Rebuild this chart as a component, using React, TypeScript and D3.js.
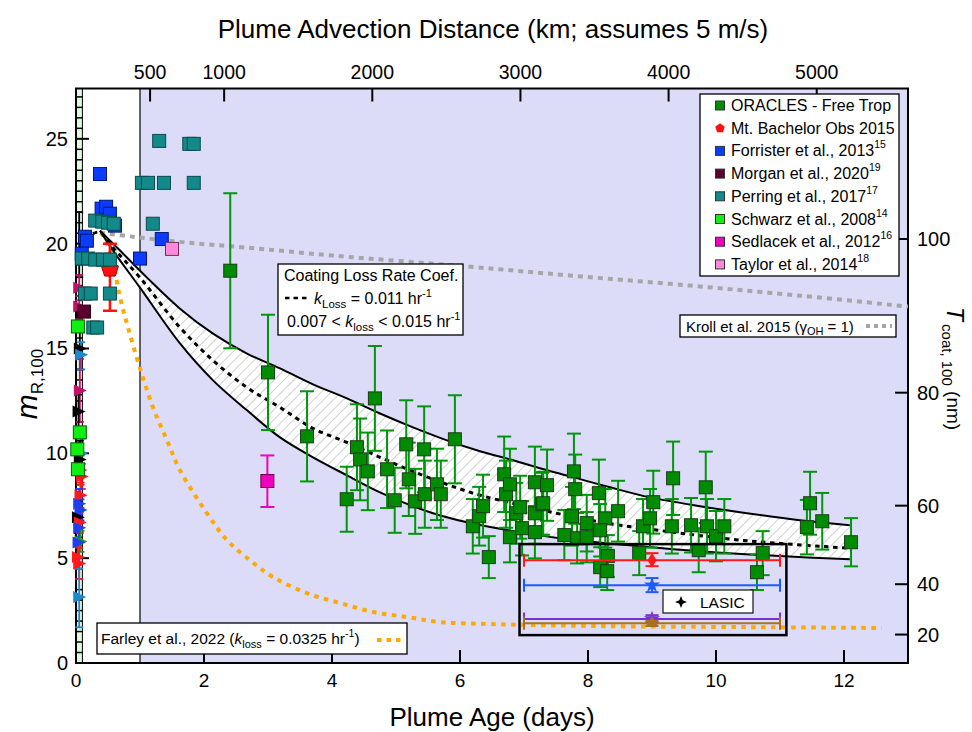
import React from "react";
import * as d3 from "d3";

const FONT = "'Liberation Sans', Arial, Helvetica, sans-serif";

// ---------- axes ----------
const ageTicks = [0, 2, 4, 6, 8, 10, 12];
const mrTicks = [0, 5, 10, 15, 20, 25];
const distTicksKm = [500, 1000, 2000, 3000, 4000, 5000];
const coatTicksNm = [20, 40, 60, 80, 100];

// ---------- ORACLES free troposphere ----------
const oracAge = [2.41, 3.0, 3.61, 4.67, 4.23, 4.39, 4.44, 4.56, 4.86, 4.98, 5.16, 5.2, 5.3, 5.44, 5.45, 5.64, 5.7, 5.92, 6.2, 6.3, 6.36, 6.45, 6.69, 6.72, 6.78, 6.88, 6.78, 6.97, 7.17, 7.17, 7.17, 7.28, 7.36, 7.3, 7.78, 7.8, 7.75, 7.63, 7.83, 7.98, 7.98, 8.17, 8.27, 8.19, 8.47, 8.31, 8.19, 8.3, 8.8, 8.86, 8.97, 9.02, 9.33, 9.31, 9.61, 9.73, 9.84, 9.86, 10.0, 10.13, 10.73, 10.64, 11.47, 11.42, 11.66, 12.11, 6.94];
const oracM = [18.71, 13.86, 10.81, 12.62, 7.81, 10.29, 9.71, 9.14, 9.24, 7.76, 10.43, 8.76, 7.71, 10.19, 8.05, 8.52, 8.05, 10.67, 6.52, 7.0, 7.48, 5.05, 9.0, 8.05, 8.52, 7.14, 6.0, 6.43, 8.62, 7.14, 6.24, 7.57, 8.48, 7.62, 9.14, 8.29, 7.0, 6.1, 5.95, 6.67, 6.0, 8.1, 6.9, 6.33, 7.24, 5.1, 4.57, 4.38, 5.24, 6.52, 6.9, 7.67, 8.81, 6.52, 6.57, 5.38, 8.38, 6.52, 6.05, 6.52, 5.24, 4.33, 7.62, 6.48, 6.76, 5.76, 7.43];
const oracErr = [3.7, 2.75, 2.15, 2.5, 1.55, 2.05, 1.95, 1.85, 1.85, 1.55, 2.1, 1.75, 1.55, 2.05, 1.6, 1.7, 1.6, 2.1, 1.3, 1.4, 1.5, 1.0, 1.8, 1.6, 1.7, 1.45, 1.2, 1.3, 1.7, 1.45, 1.25, 1.5, 1.7, 1.5, 1.8, 1.65, 1.4, 1.2, 1.2, 1.35, 1.2, 1.6, 1.4, 1.25, 1.45, 1.0, 0.95, 0.9, 1.05, 1.3, 1.4, 1.5, 1.75, 1.3, 1.3, 1.05, 1.7, 1.3, 1.2, 1.3, 1.05, 0.85, 1.5, 1.3, 1.35, 1.15, 1.5];

// ---------- model curves [age (days), mR] ----------
const kLossSlow = [[0.375, 20.62], [0.688, 19.67], [1.109, 18.38], [1.625, 16.9], [2.141, 15.71], [2.672, 14.76], [3.188, 14.05], [3.703, 13.29], [4.234, 12.62], [4.75, 11.9], [5.266, 11.24], [5.797, 10.62], [6.313, 10.1], [6.828, 9.67], [7.25, 9.29], [7.719, 8.9], [8.344, 8.38], [8.969, 7.9], [9.75, 7.48], [10.375, 7.19], [11.31, 6.81], [12.09, 6.57]];
const kLossFast = [[0.375, 20.62], [0.578, 19.67], [1.0, 17.9], [1.625, 15.24], [2.141, 13.48], [2.672, 12.05], [3.188, 10.76], [3.703, 9.81], [4.234, 8.95], [4.75, 8.14], [5.531, 7.19], [6.109, 6.71], [6.828, 6.29], [7.563, 5.95], [8.813, 5.57], [9.75, 5.33], [11.0, 5.1], [12.09, 4.95]];
const kLossMid = [[0.266, 20.48], [0.375, 20.55], [0.578, 19.81], [1.0, 18.38], [1.625, 16.0], [2.141, 14.43], [2.672, 13.14], [3.188, 12.19], [3.703, 11.19], [4.234, 10.52], [4.75, 9.81], [5.266, 9.14], [5.797, 8.52], [6.313, 8.0], [6.828, 7.62], [7.359, 7.24], [8.297, 6.67], [9.328, 6.24], [10.375, 5.86], [12.05, 5.48]];
const farleyCurve = [[0.39, 20.52], [0.469, 20.14], [0.578, 19.1], [0.688, 17.43], [0.813, 16.0], [1.0, 14.05], [1.203, 12.19], [1.422, 10.62], [1.625, 9.19], [2.047, 7.14], [2.359, 5.86], [2.719, 4.9], [3.078, 4.1], [3.609, 3.33], [4.125, 2.86], [4.641, 2.43], [5.172, 2.19], [5.688, 1.95], [6.469, 1.86], [8.188, 1.76], [10.53, 1.71], [12.59, 1.67]];
const krollCurve = [[0.375, 20.52], [0.891, 20.33], [1.734, 20.05], [2.672, 19.81], [4.016, 19.43], [6.156, 18.9], [7.719, 18.48], [9.594, 18.0], [11.31, 17.52], [13.0, 17.0]];

// ---------- literature points [age, mR] ----------
const forrister = [[0.375, 23.32], [0.4, 21.67], [0.47, 21.76], [0.53, 21.43], [0.61, 20.86], [0.14, 20.33], [0.17, 20.14], [0.09, 19.52], [1.0, 19.29], [1.34, 20.22]];
const perring = [[1.3, 24.9], [1.77, 24.76], [1.84, 24.76], [1.03, 22.9], [1.125, 22.9], [1.375, 22.9], [1.84, 22.9], [1.2, 20.95], [0.3, 21.1], [0.41, 21.05], [0.5, 21.0], [0.59, 20.95], [0.09, 19.29], [0.19, 19.29], [0.3, 19.24], [0.42, 19.24], [0.53, 19.24], [0.14, 17.62], [0.23, 17.62], [0.53, 17.62], [0.27, 16.0], [0.33, 16.0]];
const morgan = [[0.125, 16.76]];
const schwarz = [[0.03, 16.05], [0.06, 11.0], [0.02, 10.19], [0.03, 9.24]];
const taylor = [[1.5, 19.75]];
// [age, mR, low, high]
const mtBachelor = [[0.53, 18.8, 16.8, 20.0]];
const sedlacek = [[2.99, 8.68, 7.44, 9.9]];
// near-source strip [age, mR, low, high, colour key]
const stripPts: [number, number, number, number, string][] = [
  [0.05, 19.8, 18.4, 21.5, "blk"], [0.05, 17.9, 17.3, 18.5, "mag"], [0.05, 17.0, 16.4, 17.5, "mag"],
  [0.06, 15.0, 14.0, 16.0, "blk"], [0.08, 14.7, 14.0, 15.3, "tb"], [0.06, 13.0, 11.5, 14.5, "mag"],
  [0.04, 12.0, 11.2, 12.8, "blk"], [0.08, 10.0, 9.3, 10.7, "tb"], [0.06, 9.7, 8.8, 10.6, "blk"],
  [0.07, 9.2, 8.5, 9.9, "red"], [0.09, 8.9, 8.3, 9.5, "red"], [0.07, 8.0, 7.4, 8.6, "red"],
  [0.05, 7.6, 6.9, 8.3, "blu"], [0.07, 7.3, 6.8, 7.8, "blu"], [0.03, 6.95, 6.2, 7.7, "blk"],
  [0.06, 6.7, 6.2, 7.2, "red"], [0.05, 6.45, 5.8, 7.1, "blu"], [0.07, 5.8, 5.3, 6.3, "grn"],
  [0.04, 5.75, 5.0, 6.5, "blu"], [0.03, 5.05, 4.5, 5.6, "red"], [0.05, 4.75, 4.0, 5.5, "red"],
  [0.05, 3.15, 1.7, 4.5, "tb"],
];
const stripColors: Record<string, string> = { mag: "#c4106a", blk: "#000000", tb: "#1e88c8", blu: "#1e3ff0", red: "#ff1a1a", grn: "#1f9a1f" };

// ---------- LASIC ----------
const lasicAge = [7, 9, 11];
const lasicM = [4.9, 3.71, 2.1, 1.89];
const lasicLo = [4.62, 3.38, 1.95, 1.78];
const lasicHi = [5.24, 4.05, 2.28, 2.0];
const lasicColors = ["#ff1a1a", "#1a5cff", "#7b2fd6", "#a8701e"];
const lasicSymbols = ["diamond", "star", "star", "triangle"];

// ---------- legend ----------
const legendLabels = ["ORACLES - Free Trop", "Mt. Bachelor Obs 2015", "Forrister et al., 2013", "Morgan et al., 2020", "Perring et al., 2017", "Schwarz et al., 2008", "Sedlacek et al., 2012", "Taylor et al., 2014"];
const legendRefs = ["", "", "15", "19", "17", "14", "16", "18"];
const legendColors = ["#008f00", "#ff1010", "#0a3cff", "#5c0030", "#13898a", "#11ee11", "#f000c0", "#ff88dd"];

const C = {
  orac: "#008c00", oracErr: "#00960c", red: "#ff1010", blue: "#0a3cff", teal: "#13898a",
  maroon: "#5c0030", lime: "#11ee11", magenta: "#f000c0", pink: "#ff88dd",
  lav: "#dcdcf9", green: "#e2f8e2", orange: "#ffa800", gray: "#a6a6a6",
};

const x = d3.scaleLinear().domain([0, 13]).range([76, 908]);
const y = d3.scaleLinear().domain([0, 27.4]).range([663, 88.5]);
const kmToDays = (km: number) => km / 432; // 5 m/s = 432 km/day
const coatToMr = (t: number) => (1.4 / 1.8) * (Math.pow(1 + (2 * t) / 100, 3) - 1);

const line = d3.line<number[]>().x((d) => x(d[0])).y((d) => y(d[1])).curve(d3.curveCatmullRom.alpha(0.5));

function pentagon(r: number) {
  const pts = d3.range(5).map((k) => {
    const a = (-90 + 72 * k) * (Math.PI / 180);
    return [r * Math.cos(a), r * Math.sin(a)];
  });
  return "M" + pts.map((p) => p.join(",")).join("L") + "Z";
}
const star4 = (r: number) => {
  const q = r * 0.28;
  return `M0,${-r}L${q},${-q}L${r},0L${q},${q}L0,${r}L${-q},${q}L${-r},0L${-q},${-q}Z`;
};

function Sq({ cx, cy, s, fill, stroke }: { cx: number; cy: number; s: number; fill: string; stroke: string }) {
  return <rect x={cx - s / 2} y={cy - s / 2} width={s} height={s} fill={fill} stroke={stroke} strokeWidth={1} />;
}

function ErrBar({ px, y0, y1, color, cap, w }: { px: number; y0: number; y1: number; color: string; cap: number; w: number }) {
  return (
    <g stroke={color} strokeWidth={w}>
      <line x1={px} x2={px} y1={y0} y2={y1} />
      <line x1={px - cap / 2} x2={px + cap / 2} y1={y0} y2={y0} />
      <line x1={px - cap / 2} x2={px + cap / 2} y1={y1} y2={y1} />
    </g>
  );
}

export default function App() {
  const top = 88.5, bottom = 663, left = 76, right = 908;
  const upperPath = line(kLossSlow) as string;
  const lowerRev = line(kLossFast.slice().reverse()) as string;
  const bandPath = upperPath + "L" + lowerRev.slice(1) + "Z";
  const minorTicks = d3.range(0, 27.41, 0.5).filter((v) => v % 5 !== 0);

  return (
    <svg width={972} height={732} style={{ display: "block", position: "absolute", left: 0, top: 0 }} fontFamily={FONT}>
      <defs>
        <pattern id="hatch" width={7} height={7} patternUnits="userSpaceOnUse" patternTransform="rotate(45)">
          <rect width={7} height={7} fill="#ffffff" />
          <line x1={0} y1={0} x2={0} y2={7} stroke="#c4c4c4" strokeWidth={1.6} />
        </pattern>
        <clipPath id="plot">
          <rect x={left} y={top} width={right - left} height={bottom - top} />
        </clipPath>
        <clipPath id="plotwide">
          <rect x={60} y={top} width={right - 60} height={bottom - top} />
        </clipPath>
      </defs>
      <rect width={972} height={732} fill="#ffffff" />

      {/* background regions */}
      <rect x={x(0)} y={top} width={x(0.1) - x(0)} height={bottom - top} fill={C.green} />
      <rect x={x(1)} y={top} width={x(13) - x(1)} height={bottom - top} fill={C.lav} />
      <line x1={x(0.1)} x2={x(0.1)} y1={top} y2={bottom} stroke="#000" strokeWidth={1} />
      <line x1={x(1)} x2={x(1)} y1={top} y2={bottom} stroke="#000" strokeWidth={1.2} />

      {/* frame */}
      <rect x={left} y={top} width={right - left} height={bottom - top} fill="none" stroke="#000" strokeWidth={2} />

      {/* bottom axis */}
      {ageTicks.map((t) => (
        <g key={"bt" + t}>
          <line x1={x(t)} x2={x(t)} y1={bottom} y2={bottom - 13} stroke="#000" strokeWidth={2} />
          <text x={x(t)} y={687} fontSize={19} textAnchor="middle">{t}</text>
        </g>
      ))}
      {/* left axis */}
      {minorTicks.map((t) => (
        <line key={"lm" + t} x1={left} x2={left + 7} y1={y(t)} y2={y(t)} stroke="#000" strokeWidth={1.5} />
      ))}
      {mrTicks.map((t) => (
        <g key={"lt" + t}>
          <line x1={left} x2={left + 13} y1={y(t)} y2={y(t)} stroke="#000" strokeWidth={2} />
          <text x={68} y={y(t) + 7} fontSize={20} textAnchor="end">{t}</text>
        </g>
      ))}
      {/* top axis */}
      {distTicksKm.map((t) => (
        <g key={"tt" + t}>
          <line x1={x(kmToDays(t))} x2={x(kmToDays(t))} y1={top} y2={top + 13} stroke="#000" strokeWidth={2} />
          <text x={x(kmToDays(t))} y={78.5} fontSize={19.5} textAnchor="middle">{t}</text>
        </g>
      ))}
      {/* right axis */}
      {coatTicksNm.map((t) => (
        <g key={"rt" + t}>
          <line x1={right - 13} x2={right} y1={y(coatToMr(t))} y2={y(coatToMr(t))} stroke="#000" strokeWidth={2} />
          <text x={917} y={y(coatToMr(t)) + 7} fontSize={20}>{t}</text>
        </g>
      ))}

      <g clipPath="url(#plot)">
        {/* Kroll gray dotted */}
        <path d={line(krollCurve) as string} fill="none" stroke={C.gray} strokeWidth={4} strokeDasharray="5,5" />
        {/* Farley orange dotted */}
        <path d={line(farleyCurve) as string} fill="none" stroke={C.orange} strokeWidth={4} strokeDasharray="4.5,5.5" />
        {/* k_loss band */}
        <path d={bandPath} fill="url(#hatch)" stroke="none" />
        <path d={upperPath} fill="none" stroke="#000" strokeWidth={2} />
        <path d={line(kLossFast) as string} fill="none" stroke="#000" strokeWidth={2} />
        <path d={line(kLossMid) as string} fill="none" stroke="#000" strokeWidth={3} strokeDasharray="4.5,4.5" />
      </g>

      <g clipPath="url(#plotwide)">
        {/* near-source strip */}
        {stripPts.map((d, i) => (
          <ErrBar key={"se" + i} px={x(d[0])} y0={y(d[3])} y1={y(d[2])} color={stripColors[d[4]]} cap={8} w={1.8} />
        ))}
        {stripPts.map((d, i) =>
          i === 0 ? null : (
            <path key={"sp" + i} transform={`translate(${x(d[0])},${y(d[1])})`} d="M-6,-6L7,0L-6,6Z" fill={stripColors[d[4]]} stroke="none" />
          )
        )}
        {schwarz.map((d, i) => (
          <Sq key={"sw" + i} cx={x(d[0])} cy={y(d[1])} s={13} fill={C.lime} stroke="#0a5a0a" />
        ))}

        {/* Mt Bachelor */}
        {mtBachelor.map((d, i) => (
          <g key={"mb" + i}>
            <ErrBar px={x(d[0])} y0={y(d[3])} y1={y(d[2])} color={C.red} cap={14} w={2.5} />
            <path transform={`translate(${x(d[0])},${y(d[1])})`} d={pentagon(9)} fill={C.red} stroke="#b00000" strokeWidth={1} />
          </g>
        ))}
        {forrister.map((d, i) => (
          <Sq key={"fo" + i} cx={x(d[0])} cy={y(d[1])} s={13} fill={C.blue} stroke="#00167a" />
        ))}
        {perring.map((d, i) => (
          <Sq key={"pe" + i} cx={x(d[0])} cy={y(d[1])} s={13} fill={C.teal} stroke="#0a4a4a" />
        ))}
        {morgan.map((d, i) => (
          <Sq key={"mo" + i} cx={x(d[0])} cy={y(d[1])} s={13} fill={C.maroon} stroke="#2a0010" />
        ))}
        {taylor.map((d, i) => (
          <Sq key={"ta" + i} cx={x(d[0])} cy={y(d[1])} s={13} fill={C.pink} stroke="#7a2a5a" />
        ))}
        {sedlacek.map((d, i) => (
          <g key={"se" + i}>
            <ErrBar px={x(d[0])} y0={y(d[3])} y1={y(d[2])} color={C.magenta} cap={14} w={2} />
            <Sq cx={x(d[0])} cy={y(d[1])} s={13} fill={C.magenta} stroke="#6a0050" />
          </g>
        ))}

        {/* ORACLES */}
        {oracAge.map((a, i) => (
          <ErrBar key={"oe" + i} px={x(a)} y0={y(oracM[i] + oracErr[i])} y1={y(oracM[i] - oracErr[i])} color={C.oracErr} cap={14} w={2} />
        ))}
        {oracAge.map((a, i) => (
          <Sq key={"op" + i} cx={x(a)} cy={y(oracM[i])} s={13} fill={C.orac} stroke="#1c3a1c" />
        ))}

        {/* LASIC */}
        {lasicM.map((m, i) => {
          const cy = y(m);
          const cx = x(lasicAge[1]);
          const sym =
            lasicSymbols[i] === "diamond" ? d3.symbol(d3.symbolDiamond, 70)() :
            lasicSymbols[i] === "star" ? d3.symbol(d3.symbolStar, 80)() : d3.symbol(d3.symbolTriangle, 70)();
          return (
            <g key={"la" + i}>
              <line x1={x(lasicAge[0])} x2={x(lasicAge[2])} y1={cy} y2={cy} stroke={lasicColors[i]} strokeWidth={2} />
              <line x1={x(lasicAge[0])} x2={x(lasicAge[0])} y1={cy - 6.5} y2={cy + 6.5} stroke={lasicColors[i]} strokeWidth={2} />
              <line x1={x(lasicAge[2])} x2={x(lasicAge[2])} y1={cy - 6.5} y2={cy + 6.5} stroke={lasicColors[i]} strokeWidth={2} />
              <ErrBar px={cx} y0={y(lasicHi[i])} y1={y(lasicLo[i])} color={lasicColors[i]} cap={13} w={2} />
              <path transform={`translate(${cx},${cy})`} d={sym as string} fill={lasicColors[i]} />
            </g>
          );
        })}
        <rect x={x(6.93)} y={y(5.67)} width={x(11.1) - x(6.93)} height={y(1.33) - y(5.67)} fill="none" stroke="#000" strokeWidth={2.5} />
      </g>

      {/* LASIC legend */}
      <rect x={663} y={590} width={90} height={23} fill="#fff" stroke="#222" strokeWidth={1.3} />
      <path transform="translate(681,602)" d={star4(6)} fill="#000" />
      <text x={700} y={608} fontSize={15.5}>LASIC</text>

      {/* Coating loss box */}
      <rect x={278} y={264} width={185} height={71} fill="#fff" stroke="#000" strokeWidth={1.3} />
      <text x={284} y={281} fontSize={16}>Coating Loss Rate Coef.</text>
      <line x1={285} x2={308} y1={298} y2={298} stroke="#000" strokeWidth={2.5} strokeDasharray="4.5,4" />
      <text x={314} y={304} fontSize={16}>
        <tspan fontStyle="italic">k</tspan>
        <tspan fontSize={11.5} dy={4}>Loss</tspan>
        <tspan dy={-4}> = 0.011 hr</tspan>
        <tspan fontSize={11} dy={-7}>-1</tspan>
      </text>
      <text x={287} y={327} fontSize={16}>
        <tspan>0.007 &lt; </tspan>
        <tspan fontStyle="italic">k</tspan>
        <tspan fontSize={11.5} dy={4}>loss</tspan>
        <tspan dy={-4}> &lt; 0.015 hr</tspan>
        <tspan fontSize={11} dy={-7}>-1</tspan>
      </text>

      {/* Kroll box */}
      <rect x={680} y={315} width={216} height={22} fill="#fff" stroke="#000" strokeWidth={1.3} />
      <text x={686} y={332} fontSize={15}>
        <tspan>Kroll et al. 2015 (</tspan>
        <tspan>γ</tspan>
        <tspan fontSize={11} dy={3}>OH</tspan>
        <tspan dy={-3}> = 1)</tspan>
      </text>
      <line x1={866} x2={892} y1={326} y2={326} stroke={C.gray} strokeWidth={4} strokeDasharray="4,4" />

      {/* Farley box */}
      <rect x={97} y={623} width={310} height={31} fill="#fff" stroke="#000" strokeWidth={1.3} />
      <text x={101} y={644} fontSize={15.5}>
        <tspan>Farley et al., 2022 (</tspan>
        <tspan fontStyle="italic">k</tspan>
        <tspan fontSize={11} dy={4}>loss</tspan>
        <tspan dy={-4}> = 0.0325 hr</tspan>
        <tspan fontSize={10.5} dy={-7}>-1</tspan>
        <tspan dy={7}>)</tspan>
      </text>
      <line x1={377} x2={401} y1={640} y2={640} stroke={C.orange} strokeWidth={4} strokeDasharray="4.5,5" />

      {/* main legend */}
      <rect x={700} y={94} width={199} height={182} fill="#fff" stroke="#000" strokeWidth={1.3} />
      {legendLabels.map((lab, i) => {
        const cy = 105.5 + i * 22.7;
        return (
          <g key={"lg" + i}>
            {i === 1 ? (
              <path transform={`translate(720,${cy})`} d={pentagon(5)} fill={legendColors[i]} />
            ) : (
              <Sq cx={720} cy={cy} s={9} fill={legendColors[i]} stroke="#333" />
            )}
            <text x={731} y={cy + 5.5} fontSize={16}>
              <tspan>{lab}</tspan>
              {legendRefs[i] ? <tspan fontSize={10.5} dy={-8}>{legendRefs[i]}</tspan> : null}
            </text>
          </g>
        );
      })}

      {/* titles */}
      <text x={493} y={38} fontSize={26} textAnchor="middle">Plume Advection Distance (km; assumes 5 m/s)</text>
      <text x={492} y={726} fontSize={26} textAnchor="middle">Plume Age (days)</text>
      <text transform="translate(37,384) rotate(-90)" textAnchor="middle">
        <tspan fontStyle="italic" fontSize={30}>m</tspan>
        <tspan fontSize={17} dy={6}>R,100</tspan>
      </text>
      <text transform="translate(947,307) rotate(90)">
        <tspan fontStyle="italic" fontSize={23}>T</tspan>
        <tspan fontSize={15} dy={5} dx={3}>coat, 100</tspan>
        <tspan fontSize={19} dy={-5}> (nm)</tspan>
      </text>
    </svg>
  );
}
